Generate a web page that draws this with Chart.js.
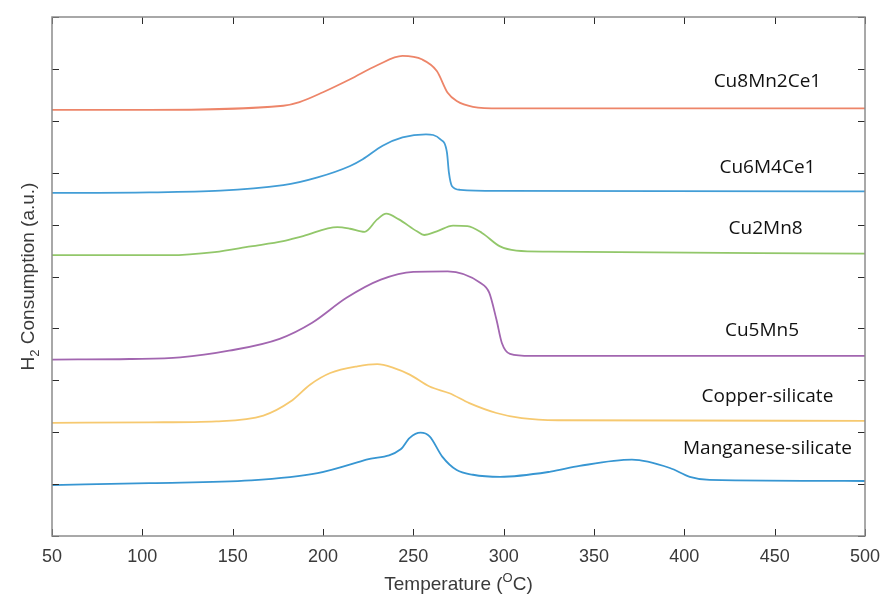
<!DOCTYPE html>
<html>
<head>
<meta charset="utf-8">
<script src="https://cdn.jsdelivr.net/npm/chart.js@4.4.1/dist/chart.umd.min.js"></script>
<style>
  html, body { margin: 0; padding: 0; background: #fff; }
  #wrap { width: 885px; height: 597px; }
</style>
</head>
<body>
<div id="wrap"><canvas id="myChart" width="885" height="597"></canvas></div>
<script>
// temperature (C) and offset-stacked H2 consumption (a.u.) for each sample
const cu8T = [50, 104, 178, 187, 200, 215, 230, 244, 255, 263, 269, 274, 283, 298, 500];
const cu8V = [8.21, 8.21, 8.29, 8.36, 8.55, 8.80, 9.07, 9.25, 9.18, 8.96, 8.54, 8.38, 8.27, 8.24, 8.24];

const cu6T = [50, 104, 178, 197, 215, 222, 233, 244, 257, 265, 268.6, 269.7, 271.4, 276, 298, 500];
const cu6V = [6.61, 6.62, 6.76, 6.91, 7.13, 7.26, 7.52, 7.68, 7.74, 7.64, 7.39, 7.00, 6.74, 6.67, 6.65, 6.64];

const cu2T = [50, 115, 140, 160, 178, 189, 208, 215, 223, 230, 235, 242, 252, 256, 263, 272, 280, 288, 298, 307, 325, 500];
const cu2V = [5.41, 5.41, 5.47, 5.58, 5.68, 5.78, 5.95, 5.92, 5.86, 6.10, 6.21, 6.10, 5.87, 5.80, 5.87, 5.98, 5.97, 5.84, 5.58, 5.50, 5.48, 5.44];

const cu5T = [50, 93, 121, 148, 176, 194, 213, 232, 250, 269, 287, 292, 296, 299, 303.5, 315, 500];
const cu5V = [3.40, 3.41, 3.44, 3.57, 3.80, 4.11, 4.59, 4.94, 5.09, 5.10, 4.88, 4.69, 4.17, 3.72, 3.51, 3.47, 3.47];

const cusT = [50, 104, 141, 167, 182, 193, 204, 219, 230, 239, 248, 259, 270, 281, 296, 310, 330, 500];
const cusV = [2.18, 2.19, 2.21, 2.32, 2.59, 2.92, 3.14, 3.27, 3.31, 3.24, 3.11, 2.88, 2.75, 2.56, 2.37, 2.27, 2.23, 2.22];

const mnsT = [50, 104, 160, 197, 224, 243, 248, 254, 259, 266, 274, 283, 298, 326, 342, 371, 392, 403, 414, 500];
const mnsV = [0.98, 1.02, 1.07, 1.21, 1.47, 1.67, 1.89, 1.99, 1.92, 1.53, 1.27, 1.18, 1.14, 1.24, 1.35, 1.47, 1.31, 1.14, 1.08, 1.06];

const names = ['Cu8Mn2Ce1', 'Cu6M4Ce1', 'Cu2Mn8', 'Cu5Mn5', 'Copper-silicate', 'Manganese-silicate'];
const labelT = [446, 446, 445, 443, 446, 446];
const labelV = [8.76, 7.10, 5.93, 3.96, 2.68, 1.68];
const colors = ['rgb(237,133,105)', 'rgb(66,157,214)', 'rgb(146,199,106)', 'rgb(162,102,176)', 'rgb(246,201,112)', 'rgb(55,150,210)'];

const xTicks = [50, 100, 150, 200, 250, 300, 350, 400, 450, 500];

const series = [[cu8T, cu8V], [cu6T, cu6V], [cu2T, cu2V], [cu5T, cu5V], [cusT, cusV], [mnsT, mnsV]];

const datasets = series.map((s, i) => ({
  label: names[i],
  data: s[0].map((t, j) => ({ x: t, y: s[1][j] })),
  borderColor: colors[i],
  borderWidth: 1.8,
  pointRadius: 0,
  fill: false,
  cubicInterpolationMode: 'monotone'
}));

// box, inward ticks, curve names and axis titles (MATLAB look)
const frame = {
  id: 'frame',
  afterDraw(chart) {
    const { ctx, chartArea: a, scales: { x, y } } = chart;
    ctx.save();
    ctx.strokeStyle = '#2b2b2b';
    ctx.lineWidth = 1;
    ctx.beginPath();
    x.ticks.forEach(t => {
      const px = Math.round(x.getPixelForValue(t.value)) + 0.5;
      ctx.moveTo(px, a.bottom); ctx.lineTo(px, a.bottom - 7);
      ctx.moveTo(px, a.top); ctx.lineTo(px, a.top + 7);
    });
    y.ticks.forEach(t => {
      const py = Math.round(y.getPixelForValue(t.value)) + 0.5;
      ctx.moveTo(a.left, py); ctx.lineTo(a.left + 7, py);
      ctx.moveTo(a.right, py); ctx.lineTo(a.right - 7, py);
    });
    ctx.stroke();

    ctx.strokeStyle = '#8c8c8c';
    ctx.lineWidth = 1.5;
    ctx.strokeRect(a.left, a.top, a.right - a.left, a.bottom - a.top);

    ctx.fillStyle = '#111';
    ctx.font = '19px "Open Sans"';
    ctx.textAlign = 'center';
    ctx.textBaseline = 'middle';
    names.forEach((n, i) => {
      ctx.fillText(n, x.getPixelForValue(labelT[i]), y.getPixelForValue(labelV[i]));
    });

    // x title with superscript O
    ctx.fillStyle = '#3a3a3a';
    ctx.textBaseline = 'alphabetic';
    ctx.textAlign = 'left';
    const big = '19px "Liberation Sans"', small = '13px "Liberation Sans"';
    let parts = [['Temperature (', big, 0], ['O', small, -8], ['C)', big, 0]];
    let w = 0;
    parts.forEach(p => { ctx.font = p[1]; w += ctx.measureText(p[0]).width; });
    let cx = (a.left + a.right) / 2 - w / 2;
    parts.forEach(p => { ctx.font = p[1]; ctx.fillText(p[0], cx, 590 + p[2]); cx += ctx.measureText(p[0]).width; });

    // y title with subscript 2
    ctx.translate(34, (a.top + a.bottom) / 2);
    ctx.rotate(-Math.PI / 2);
    parts = [['H', big, 0], ['2', small, 5], [' Consumption (a.u.)', big, 0]];
    w = 0;
    parts.forEach(p => { ctx.font = p[1]; w += ctx.measureText(p[0]).width; });
    cx = -w / 2;
    parts.forEach(p => { ctx.font = p[1]; ctx.fillText(p[0], cx, p[2]); cx += ctx.measureText(p[0]).width; });
    ctx.restore();
  }
};

new Chart(document.getElementById('myChart').getContext('2d'), {
  type: 'line',
  data: { datasets: datasets },
  options: {
    responsive: false,
    animation: false,
    layout: { padding: { top: 17, right: 20, left: 0, bottom: 0 } },
    plugins: { legend: { display: false }, tooltip: { enabled: false } },
    scales: {
      x: {
        type: 'linear',
        min: 50,
        max: 500,
        afterBuildTicks: s => { s.ticks = xTicks.map(v => ({ value: v })); },
        grid: { display: false, drawTicks: false },
        border: { display: false },
        ticks: { color: '#3a3a3a', font: { family: 'Liberation Sans', size: 18 }, padding: 10, maxRotation: 0 },
        afterFit: s => { s.height = 61; s.paddingLeft = 0; s.paddingRight = 0; }
      },
      y: {
        min: 0,
        max: 10,
        ticks: { stepSize: 1, callback: () => '' },
        grid: { display: false, drawTicks: false },
        border: { display: false },
        afterFit: s => { s.width = 52; }
      }
    }
  },
  plugins: [frame]
});
</script>
</body>
</html>
